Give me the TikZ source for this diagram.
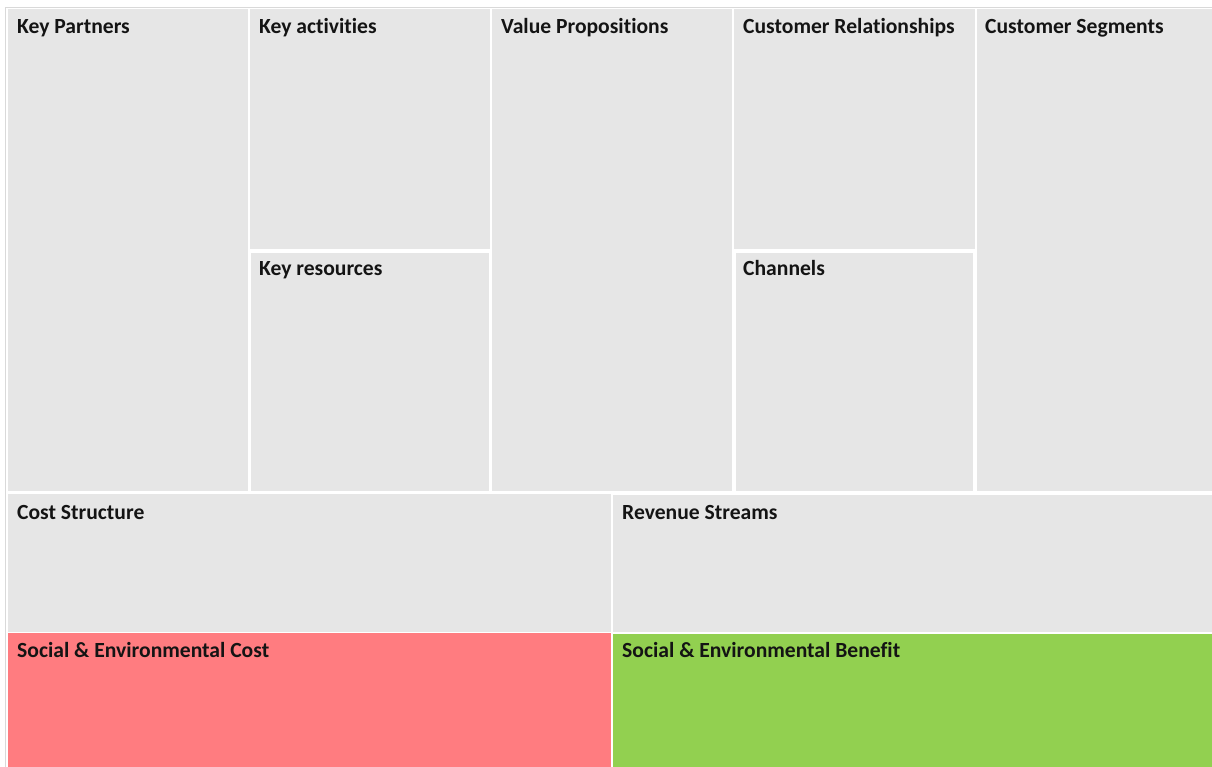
\documentclass[tikz,border=0pt]{standalone}
\usepackage{fontspec}
\setmainfont[RawFeature={-liga,-clig}]{Carlito}
\definecolor{cellgray}{HTML}{E6E6E6}
\definecolor{cellred}{HTML}{FF7C80}
\definecolor{cellgreen}{HTML}{92D050}
\definecolor{framegray}{HTML}{D9D9D9}
\definecolor{txt}{HTML}{141414}
\tikzset{
  cell/.style={fill=cellgray, draw=none},
  lbl/.style={anchor=base west, inner sep=0pt, text=txt, font=\bfseries\fontsize{21.6}{25}\selectfont},
}
\begin{document}
\begin{tikzpicture}[x=1pt,y=-1pt]
\useasboundingbox (0,0) rectangle (1212,767);
\fill[white] (0,0) rectangle (1212,767);
% faint outer frame
\draw[framegray, line width=1pt] (5.5,767) -- (5.5,7.5) -- (1212,7.5);
% top row cells
\fill[cellgray] (8,9) rectangle (248,491);
\fill[cellgray] (250,9) rectangle (490,249);
\fill[cellgray] (251,253) rectangle (489,491);
\fill[cellgray] (492,9) rectangle (732,491);
\fill[cellgray] (734,9) rectangle (975,249);
\fill[cellgray] (736,253) rectangle (973,491);
\fill[cellgray] (977,9) rectangle (1212,491);
% bottom cells
\fill[cellgray] (8,494) rectangle (610.5,632);
\fill[cellgray] (613,495) rectangle (1212,632);
\fill[cellred] (8,633) rectangle (610.5,767);
\fill[cellgreen] (613,633.5) rectangle (1212,767);
% labels
\node[lbl] (kp) at (17,33.5) {Key Partners};
\node[lbl] (ka) at (259,33.5) {Key activities};
\node[lbl] (kr) at (259,275.5) {Key resources};
\node[lbl] (vp) at (501,33.5) {Value Propositions};
\node[lbl] (cr) at (743,33.5) {Customer Relationships};
\node[lbl] (ch) at (743,275.5) {Channels};
\node[lbl] (cs) at (985,33.5) {Customer Segments};
\node[lbl] (cost) at (17,519.5) {Cost Structure};
\node[lbl] (rev) at (622,519.5) {Revenue Streams};
\node[lbl] (sec) at (17,657.5) {Social \& Environmental Cost};
\node[lbl] (seb) at (622,657.5) {Social \& Environmental Benefit};
\end{tikzpicture}
\end{document}
